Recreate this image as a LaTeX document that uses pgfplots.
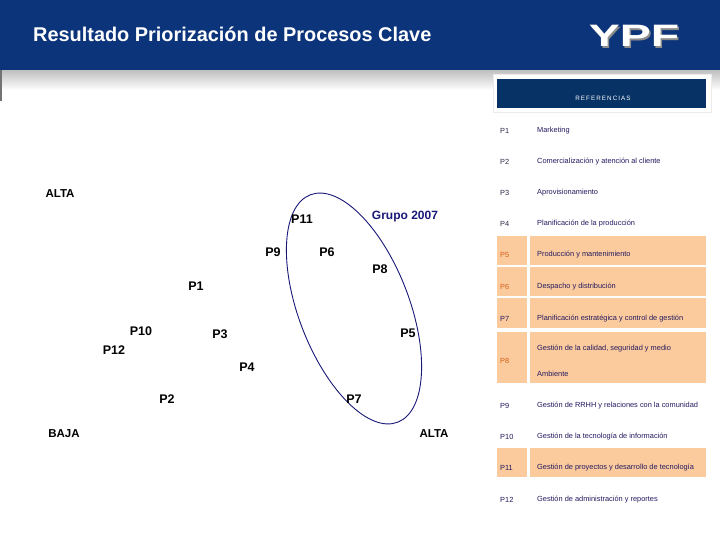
\documentclass[border=0pt]{standalone}
\usepackage{pgfplots}
\pgfplotsset{compat=1.18}
\usepackage{pgfplotstable}
\usepackage{graphicx}
\usepackage{fontspec}
\setmainfont{Liberation Sans}
\definecolor{band}{RGB}{11,52,122}
\definecolor{refbox}{RGB}{6,50,102}
\definecolor{peach}{RGB}{251,203,157}
\definecolor{desc}{RGB}{35,25,95}
\definecolor{plab}{RGB}{45,45,75}
\definecolor{orlab}{RGB}{210,95,25}
\definecolor{grp}{RGB}{25,25,120}
\newcommand{\tabfont}{\fontsize{7.4}{8}\selectfont}

% label positions of the processes (x: right = ALTA, y: image rows, top = ALTA)
\pgfplotstableread{
x y label
302 219 P11
273 252 P9
327 252 P6
380 269 P8
196 286 P1
141 331 P10
220 334 P3
408 333 P5
114 350 P12
247 367 P4
167 399 P2
354 399 P7
}\procdata

\begin{document}
\begin{tikzpicture}
\begin{axis}[
  scale only axis, width=720pt, height=540pt,
  xmin=0, xmax=720, ymin=0, ymax=540, y dir=reverse,
  hide axis, clip=true,
]
% background
\fill[white] (axis cs:0,0) rectangle (axis cs:720,540);
% header band and shadow
\shade[top color=black!25, bottom color=white] (axis cs:0,70) rectangle (axis cs:720,90);
\fill[band] (axis cs:0,0) rectangle (axis cs:720,70);
\fill[black!55] (axis cs:0,70) rectangle (axis cs:2,101);
\node[anchor=west, text=white, font=\bfseries\fontsize{19.9}{22}\selectfont, inner sep=0pt] at (axis cs:33,34) {Resultado Priorización de Procesos Clave};
\node[text=black!45, inner sep=0pt] at (axis cs:635.5,37.5) {\scalebox{1.5}[1]{\fontsize{31}{31}\selectfont\bfseries YPF}};
\node[text=white, inner sep=0pt] at (axis cs:634,36) {\scalebox{1.5}[1]{\fontsize{31}{31}\selectfont\bfseries YPF}};

% reference table
\fill[white, draw=black!8] (axis cs:493,74) rectangle (axis cs:711,112);
\fill[refbox] (axis cs:497,79) rectangle (axis cs:706,108);
\node[text=white, font=\fontsize{6.3}{7}\selectfont, inner sep=0pt] at (axis cs:603,98) {R\,E\,F\,E\,R\,E\,N\,C\,I\,A\,S};
\fill[peach] (axis cs:497,236) rectangle (axis cs:527,265);
\fill[peach] (axis cs:530,236) rectangle (axis cs:706,265);
\fill[peach] (axis cs:497,267) rectangle (axis cs:527,296);
\fill[peach] (axis cs:530,267) rectangle (axis cs:706,296);
\fill[peach] (axis cs:497,298) rectangle (axis cs:527,328);
\fill[peach] (axis cs:530,298) rectangle (axis cs:706,328);
\fill[peach] (axis cs:497,332) rectangle (axis cs:527,383);
\fill[peach] (axis cs:530,332) rectangle (axis cs:706,383);
\fill[peach] (axis cs:497,448) rectangle (axis cs:527,477);
\fill[peach] (axis cs:530,448) rectangle (axis cs:706,477);
\node[anchor=west, text=plab, font=\tabfont, inner sep=0pt] at (axis cs:500,131) {P1};
\node[anchor=west, text=desc, font=\tabfont, inner sep=0pt] at (axis cs:537,131) {Marketing};
\node[anchor=west, text=plab, font=\tabfont, inner sep=0pt] at (axis cs:500,162) {P2};
\node[anchor=west, text=desc, font=\tabfont, inner sep=0pt] at (axis cs:537,162) {Comercialización y atención al cliente};
\node[anchor=west, text=plab, font=\tabfont, inner sep=0pt] at (axis cs:500,193) {P3};
\node[anchor=west, text=desc, font=\tabfont, inner sep=0pt] at (axis cs:537,193) {Aprovisionamiento};
\node[anchor=west, text=plab, font=\tabfont, inner sep=0pt] at (axis cs:500,224) {P4};
\node[anchor=west, text=desc, font=\tabfont, inner sep=0pt] at (axis cs:537,224) {Planificación de la producción};
\node[anchor=west, text=orlab, font=\tabfont, inner sep=0pt] at (axis cs:500,255) {P5};
\node[anchor=west, text=desc, font=\tabfont, inner sep=0pt] at (axis cs:537,255) {Producción y mantenimiento};
\node[anchor=west, text=orlab, font=\tabfont, inner sep=0pt] at (axis cs:500,287) {P6};
\node[anchor=west, text=desc, font=\tabfont, inner sep=0pt] at (axis cs:537,287) {Despacho y distribución};
\node[anchor=west, text=desc, font=\tabfont, inner sep=0pt] at (axis cs:500,319) {P7};
\node[anchor=west, text=desc, font=\tabfont, inner sep=0pt] at (axis cs:537,319) {Planificación estratégica y control de gestión};
\node[anchor=west, text=orlab, font=\tabfont, inner sep=0pt] at (axis cs:500,361) {P8};
\node[anchor=west, text=desc, font=\tabfont, inner sep=0pt] at (axis cs:537,349) {Gestión de la calidad, seguridad y medio};
\node[anchor=west, text=desc, font=\tabfont, inner sep=0pt] at (axis cs:537,374) {Ambiente};
\node[anchor=west, text=desc, font=\tabfont, inner sep=0pt] at (axis cs:500,406) {P9};
\node[anchor=west, text=desc, font=\tabfont, inner sep=0pt] at (axis cs:537,406) {Gestión de RRHH y relaciones con la comunidad};
\node[anchor=west, text=desc, font=\tabfont, inner sep=0pt] at (axis cs:500,437) {P10};
\node[anchor=west, text=desc, font=\tabfont, inner sep=0pt] at (axis cs:537,437) {Gestión de la tecnología de información};
\node[anchor=west, text=desc, font=\tabfont, inner sep=0pt] at (axis cs:500,468) {P11};
\node[anchor=west, text=desc, font=\tabfont, inner sep=0pt] at (axis cs:537,468) {Gestión de proyectos y desarrollo de tecnología};
\node[anchor=west, text=desc, font=\tabfont, inner sep=0pt] at (axis cs:500,500) {P12};
\node[anchor=west, text=desc, font=\tabfont, inner sep=0pt] at (axis cs:537,500) {Gestión de administración y reportes};

% matrix axis labels
\node[font=\bfseries\fontsize{11.5}{13}\selectfont, inner sep=0pt] at (axis cs:60,194) {ALTA};
\node[font=\bfseries\fontsize{11.5}{13}\selectfont, inner sep=0pt] at (axis cs:64,434) {BAJA};
\node[font=\bfseries\fontsize{11.5}{13}\selectfont, inner sep=0pt] at (axis cs:434,434) {ALTA};

% group ellipse
\draw[grp, line width=0.9pt, rotate around={21:(axis cs:354,308.5)}] (axis cs:354,308.5) ellipse [x radius=55.3pt, y radius=121.8pt];
\node[text=grp, font=\bfseries\fontsize{12}{14}\selectfont, inner sep=0pt] at (axis cs:405,217) {Grupo 2007};

% processes
\addplot[draw=none, mark=none, nodes near coords, point meta=explicit symbolic,
  every node near coord/.append style={anchor=center, inner sep=0pt, text=black, font=\bfseries\fontsize{12.5}{14}\selectfont}]
  table[x=x, y=y, meta=label] {\procdata};
\end{axis}
\end{tikzpicture}
\end{document}
